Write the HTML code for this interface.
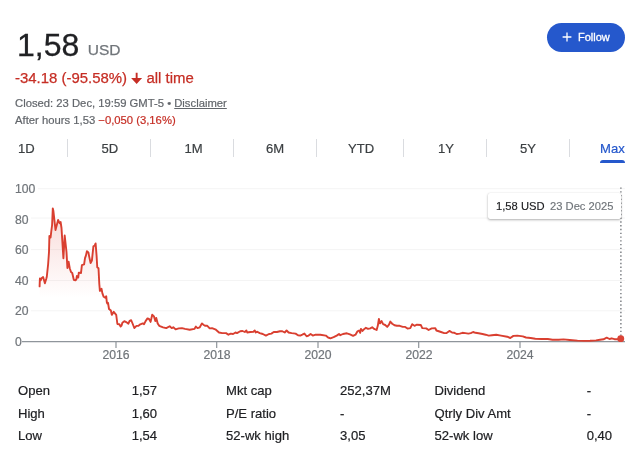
<!DOCTYPE html>
<html><head><meta charset="utf-8"><title>Stock</title>
<style>
html,body{margin:0;padding:0;background:#fff;}
body{width:640px;height:457px;position:relative;overflow:hidden;font-family:"Liberation Sans",Arial,sans-serif;color:#202124;}
.t{position:absolute;white-space:nowrap;line-height:1;}
.price{font-size:32px;color:#202124;-webkit-text-stroke:0.3px;}
.usd{font-size:15.5px;color:#70757a;-webkit-text-stroke:0.25px;}
.chg{font-size:14.93px;color:#c62e25;-webkit-text-stroke:0.25px;}
.meta{font-size:11.27px;color:#62666b;-webkit-text-stroke:0.2px;}
.meta u{text-decoration:underline;}
.red{color:#c62e25;-webkit-text-stroke:0.2px;}
.tab{font-size:13.07px;color:#3c4043;-webkit-text-stroke:0.2px;}
.sep{position:absolute;top:139px;width:1px;height:18px;background:#dadce0;}
.ax{font-size:12.2px;color:#70757a;-webkit-text-stroke:0.2px;}
.row{font-size:13.07px;color:#202124;-webkit-text-stroke:0.2px;}
.btn{position:absolute;left:547.3px;top:22.5px;width:77.6px;height:29.6px;border-radius:15px;background:#2558cc;}
.btn span{position:absolute;left:30.7px;top:9px;font-size:11px;line-height:1;color:#fff;-webkit-text-stroke:0.3px;}
.tip{position:absolute;left:487.5px;top:193px;width:133.5px;height:26px;border-radius:2px;background:#fff;box-shadow:0 1px 2.5px rgba(0,0,0,.3),0 0 1px rgba(0,0,0,.12);}
.tip .a{position:absolute;left:8.5px;top:7.7px;font-size:11.2px;line-height:1;color:#202124;-webkit-text-stroke:0.15px;}
.tip .b{position:absolute;left:62.5px;top:7.7px;font-size:11.2px;-webkit-text-stroke:0.15px;line-height:1;color:#70757a;}
</style></head><body>
<div class="t price" style="left:17px;top:29px;">1,58</div>
<div class="t usd" style="left:87.8px;top:42.1px;">USD</div>
<div class="t chg" style="left:15px;top:71.3px;">-34.18 (-95.58%)<span style="display:inline-block;width:19.5px"></span>all time</div>
<svg width="16" height="16" viewBox="128 70 16 16" style="position:absolute;left:128px;top:70px"><path d="M135.7 72.8H137.6V78.1H142.1L136.65 83.9L131.1 78.1H135.7Z" fill="#c62e25"/></svg>
<div class="t meta" style="left:15px;top:98.1px;">Closed: 23 Dec, 19:59 GMT-5 • <u>Disclaimer</u></div>
<div class="t meta" style="left:15px;top:115px;">After hours 1,53 <span class="red">−0,050 (3,16%)</span></div>

<div class="btn"><svg width="10" height="10" viewBox="0 0 10 10" style="position:absolute;left:14.5px;top:9.9px"><path d="M5 0.6V9.4M0.6 5H9.4" stroke="#fff" stroke-width="1.3" fill="none"/></svg><span>Follow</span></div>

<div class="t tab" style="left:18px;top:141.5px;">1D</div>
<div class="t tab" style="left:101.5px;top:141.5px;">5D</div>
<div class="t tab" style="left:184.5px;top:141.5px;">1M</div>
<div class="t tab" style="left:266px;top:141.5px;">6M</div>
<div class="t tab" style="left:348px;top:141.5px;">YTD</div>
<div class="t tab" style="left:438px;top:141.5px;">1Y</div>
<div class="t tab" style="left:520px;top:141.5px;">5Y</div>
<div class="t tab" style="left:600px;top:141.5px;color:#2558cc;">Max</div>
<div class="sep" style="left:67px"></div>
<div class="sep" style="left:150px"></div>
<div class="sep" style="left:233px"></div>
<div class="sep" style="left:316px"></div>
<div class="sep" style="left:403px"></div>
<div class="sep" style="left:486px"></div>
<div class="sep" style="left:569px"></div>
<div style="position:absolute;left:600px;top:159.5px;width:25px;height:3px;background:#2558cc;border-radius:3px 3px 0 0;"></div>

<svg width="640" height="457" viewBox="0 0 640 457" style="position:absolute;left:0;top:0">
<defs><linearGradient id="g" x1="0" y1="205" x2="0" y2="298" gradientUnits="userSpaceOnUse">
<stop offset="0" stop-color="#d93025" stop-opacity="0.19"/><stop offset="1" stop-color="#d93025" stop-opacity="0"/></linearGradient></defs>
<g stroke="#f4f4f4" stroke-width="1">
<line x1="38" x2="625" y1="188.7" y2="188.7"/>
<line x1="31" x2="625" y1="218" y2="218"/>
<line x1="31" x2="625" y1="249.6" y2="249.6"/>
<line x1="31" x2="625" y1="280.5" y2="280.5"/>
<line x1="31" x2="625" y1="310.8" y2="310.8"/>
</g>
<path d="M39.6,341.6 L39.6,286.4 L39.9,278.5 L40.7,280.3 L41.5,278.2 L43.1,277 L44.9,283.3 L46.2,279 L46.8,276.75 L48.1,264.5 L49,252 L49.4,236 L50.6,237.5 L51.2,232 L52.1,225 L52.8,208.4 L53.4,211 L55.5,230 L58.1,220 L59.6,223.2 L60.6,222 L61.5,228 L63.4,258.25 L64.7,235.5 L66.5,252 L67.4,268 L68.6,261.6 L69.75,268.25 L71,272 L72.25,273 L73.8,279.8 L75.4,280.4 L76.3,279.5 L76.9,276 L78.2,277.6 L78.8,272.6 L81,273 L81.9,265.1 L84.1,264.3 L85,258.1 L85.9,255.6 L86.9,251.25 L88.4,252.5 L89,255.6 L90.6,263.1 L91.9,260.6 L93.4,246.25 L94.7,245.6 L95.6,243.4 L96.6,256 L97.25,267.3 L98.5,268.25 L99.3,284 L99.9,290.9 L101.5,288.7 L102.4,293.4 L103.7,296.8 L105.25,297.75 L106.2,296.2 L106.8,302.1 L107.25,303.4 L108,302.75 L109,309 L110.9,310.6 L111.8,314.9 L113.7,311.8 L116.2,314.9 L117.4,324 L119.3,324.3 L120.6,326.5 L121.5,325.6 L122.4,322.75 L124.3,321.2 L126.2,322.1 L128.4,323.7 L129.6,320.9 L131.2,320.25 L132.75,324 L134.3,328 L136.5,325.9 L138.4,325.9 L139.7,324.7 L142.8,323.4 L144,324.2 L145.6,321.1 L147.5,318.4 L149,319 L150.6,321.9 L152.2,314.8 L154,316.4 L155.3,321 L156.25,318 L157.7,323.4 L159.2,325.8 L163.1,327.3 L166.25,328.1 L169.7,326.25 L171.7,328.1 L173.3,327.3 L175.6,329.4 L178.75,328.4 L181.9,328.1 L185,328.9 L189.7,329.7 L194.4,328.9 L195.9,326.6 L197.5,328.1 L199.8,327.3 L201.9,323.4 L203.75,325 L205.3,325.8 L207.3,325.8 L209.7,328.4 L212,328.1 L215.9,329.7 L219,332.5 L222.2,333.1 L226.1,333.1 L228.4,334.7 L230.8,333.6 L233.1,334 L235.5,332.5 L237,333.1 L240.2,331.25 L242.5,331 L244.8,332 L246.4,330.5 L247.2,332.5 L250.3,332 L253.4,331.7 L254.7,330.5 L255.8,332.5 L257.3,331.7 L259.7,333.1 L262.8,334 L265.9,335.6 L269,334 L271.4,333.6 L273.75,332 L276.9,332 L280,331.25 L282.3,331.25 L284.7,332.5 L286.6,330.5 L288.6,332.5 L291.7,333.1 L295.6,333.6 L298,335.2 L300.3,335.6 L302.3,334.7 L304.4,333.6 L306.6,336.25 L308.6,335.6 L310.6,334 L312.8,335.6 L315.6,334.7 L320.3,334.7 L325.8,335.6 L328.1,337.5 L330.5,338.3 L333.6,337.2 L336.7,335.6 L339,334 L340.3,335.2 L343,334 L346.9,333.3 L350,334.4 L353.1,335.9 L355.5,334.7 L357.5,331.25 L359,330.5 L360.2,332.8 L360.9,328.9 L362.5,330.9 L364.4,328.9 L365.9,327.8 L368,328.9 L370.3,328.4 L372.2,327.3 L374.2,328.9 L376.6,330 L377.8,325.8 L378.9,319 L380,323.4 L381.6,321.1 L383.1,324.2 L385.2,325 L387.2,326.9 L389,324.7 L390.3,321.6 L392.2,323.75 L394.5,325.3 L396.9,325.8 L399.7,325.8 L402.8,326.9 L405.2,326.9 L407.5,328.6 L410.3,328.1 L412.2,324.2 L414.5,325.8 L416.9,324.7 L420.8,325 L422.3,328.1 L426.25,328.4 L428.6,330 L431.7,328.4 L435.3,328.1 L436.4,330.5 L438.75,331.25 L441,332 L444.2,333.1 L446.6,333.1 L449.4,330.9 L452,332.5 L454.4,332.8 L456.7,334 L459.8,333.6 L462.5,332.8 L465.3,333.1 L468.4,333.6 L470.8,333.1 L473.1,332 L475.5,332.8 L478.6,333.3 L482.5,334 L485.6,334.7 L488.75,335.6 L491.9,335.2 L496.25,334.7 L501,335.6 L507.2,336.7 L510.3,338 L513.4,335.9 L517.3,335.6 L522.8,336.4 L526,337.5 L530.6,338 L535.3,338.75 L541.6,339 L547.8,339 L552.5,339.7 L558.75,339.7 L563.4,339.4 L569.7,340 L577.5,340.6 L583.75,340.9 L590,340.8 L596,340.4 L600,339.8 L603.5,339.3 L606.7,337.7 L609.5,339 L611.7,338.3 L614.5,339.2 L617.4,339.2 L620.7,338.7 L620.7,341.6 Z" fill="url(#g)"/>
<line x1="22" x2="625" y1="341.7" y2="341.7" stroke="#8f959b" stroke-width="1.3"/>
<g stroke="#8a9096" stroke-width="1.15">
<line x1="116" x2="116" y1="342" y2="348"/>
<line x1="216.7" x2="216.7" y1="342" y2="348"/>
<line x1="318" x2="318" y1="342" y2="348"/>
<line x1="418.7" x2="418.7" y1="342" y2="348"/>
<line x1="520" x2="520" y1="342" y2="348"/>
</g>
<polyline points="39.6,286.4 39.9,278.5 40.7,280.3 41.5,278.2 43.1,277 44.9,283.3 46.2,279 46.8,276.75 48.1,264.5 49,252 49.4,236 50.6,237.5 51.2,232 52.1,225 52.8,208.4 53.4,211 55.5,230 58.1,220 59.6,223.2 60.6,222 61.5,228 63.4,258.25 64.7,235.5 66.5,252 67.4,268 68.6,261.6 69.75,268.25 71,272 72.25,273 73.8,279.8 75.4,280.4 76.3,279.5 76.9,276 78.2,277.6 78.8,272.6 81,273 81.9,265.1 84.1,264.3 85,258.1 85.9,255.6 86.9,251.25 88.4,252.5 89,255.6 90.6,263.1 91.9,260.6 93.4,246.25 94.7,245.6 95.6,243.4 96.6,256 97.25,267.3 98.5,268.25 99.3,284 99.9,290.9 101.5,288.7 102.4,293.4 103.7,296.8 105.25,297.75 106.2,296.2 106.8,302.1 107.25,303.4 108,302.75 109,309 110.9,310.6 111.8,314.9 113.7,311.8 116.2,314.9 117.4,324 119.3,324.3 120.6,326.5 121.5,325.6 122.4,322.75 124.3,321.2 126.2,322.1 128.4,323.7 129.6,320.9 131.2,320.25 132.75,324 134.3,328 136.5,325.9 138.4,325.9 139.7,324.7 142.8,323.4 144,324.2 145.6,321.1 147.5,318.4 149,319 150.6,321.9 152.2,314.8 154,316.4 155.3,321 156.25,318 157.7,323.4 159.2,325.8 163.1,327.3 166.25,328.1 169.7,326.25 171.7,328.1 173.3,327.3 175.6,329.4 178.75,328.4 181.9,328.1 185,328.9 189.7,329.7 194.4,328.9 195.9,326.6 197.5,328.1 199.8,327.3 201.9,323.4 203.75,325 205.3,325.8 207.3,325.8 209.7,328.4 212,328.1 215.9,329.7 219,332.5 222.2,333.1 226.1,333.1 228.4,334.7 230.8,333.6 233.1,334 235.5,332.5 237,333.1 240.2,331.25 242.5,331 244.8,332 246.4,330.5 247.2,332.5 250.3,332 253.4,331.7 254.7,330.5 255.8,332.5 257.3,331.7 259.7,333.1 262.8,334 265.9,335.6 269,334 271.4,333.6 273.75,332 276.9,332 280,331.25 282.3,331.25 284.7,332.5 286.6,330.5 288.6,332.5 291.7,333.1 295.6,333.6 298,335.2 300.3,335.6 302.3,334.7 304.4,333.6 306.6,336.25 308.6,335.6 310.6,334 312.8,335.6 315.6,334.7 320.3,334.7 325.8,335.6 328.1,337.5 330.5,338.3 333.6,337.2 336.7,335.6 339,334 340.3,335.2 343,334 346.9,333.3 350,334.4 353.1,335.9 355.5,334.7 357.5,331.25 359,330.5 360.2,332.8 360.9,328.9 362.5,330.9 364.4,328.9 365.9,327.8 368,328.9 370.3,328.4 372.2,327.3 374.2,328.9 376.6,330 377.8,325.8 378.9,319 380,323.4 381.6,321.1 383.1,324.2 385.2,325 387.2,326.9 389,324.7 390.3,321.6 392.2,323.75 394.5,325.3 396.9,325.8 399.7,325.8 402.8,326.9 405.2,326.9 407.5,328.6 410.3,328.1 412.2,324.2 414.5,325.8 416.9,324.7 420.8,325 422.3,328.1 426.25,328.4 428.6,330 431.7,328.4 435.3,328.1 436.4,330.5 438.75,331.25 441,332 444.2,333.1 446.6,333.1 449.4,330.9 452,332.5 454.4,332.8 456.7,334 459.8,333.6 462.5,332.8 465.3,333.1 468.4,333.6 470.8,333.1 473.1,332 475.5,332.8 478.6,333.3 482.5,334 485.6,334.7 488.75,335.6 491.9,335.2 496.25,334.7 501,335.6 507.2,336.7 510.3,338 513.4,335.9 517.3,335.6 522.8,336.4 526,337.5 530.6,338 535.3,338.75 541.6,339 547.8,339 552.5,339.7 558.75,339.7 563.4,339.4 569.7,340 577.5,340.6 583.75,340.9 590,340.8 596,340.4 600,339.8 603.5,339.3 606.7,337.7 609.5,339 611.7,338.3 614.5,339.2 617.4,339.2 620.7,338.7" fill="none" stroke="#d93f30" stroke-width="1.9" stroke-linejoin="round" stroke-linecap="round"/>
<line x1="620.9" x2="620.9" y1="187.4" y2="336" stroke="#6a6e73" stroke-width="1.3" stroke-dasharray="1.4 2.37"/>
<circle cx="620.75" cy="338.65" r="3.45" fill="#da4336"/>
</svg>

<div class="t ax" style="left:15px;top:183px;">100</div>
<div class="t ax" style="left:15px;top:213.5px;">80</div>
<div class="t ax" style="left:15px;top:244px;">60</div>
<div class="t ax" style="left:15px;top:274.5px;">40</div>
<div class="t ax" style="left:15px;top:305px;">20</div>
<div class="t ax" style="left:15px;top:336px;">0</div>
<div class="t ax" style="left:102.5px;top:349px;">2016</div>
<div class="t ax" style="left:203.5px;top:349px;">2018</div>
<div class="t ax" style="left:304.5px;top:349px;">2020</div>
<div class="t ax" style="left:405.5px;top:349px;">2022</div>
<div class="t ax" style="left:506.5px;top:349px;">2024</div>

<div class="tip"><span class="a">1,58 USD</span><span class="b">23 Dec 2025</span></div>

<div class="t row" style="left:18px;top:384.3px;">Open</div><div class="t row" style="left:131.7px;top:384.3px;">1,57</div>
<div class="t row" style="left:18px;top:406.6px;">High</div><div class="t row" style="left:131.7px;top:406.6px;">1,60</div>
<div class="t row" style="left:18px;top:428.9px;">Low</div><div class="t row" style="left:131.7px;top:428.9px;">1,54</div>
<div class="t row" style="left:226px;top:384.3px;">Mkt cap</div><div class="t row" style="left:340px;top:384.3px;">252,37M</div>
<div class="t row" style="left:226px;top:406.6px;">P/E ratio</div><div class="t row" style="left:340px;top:406.6px;">-</div>
<div class="t row" style="left:226px;top:428.9px;">52-wk high</div><div class="t row" style="left:340px;top:428.9px;">3,05</div>
<div class="t row" style="left:434.5px;top:384.3px;">Dividend</div><div class="t row" style="left:586.7px;top:384.3px;">-</div>
<div class="t row" style="left:434.5px;top:406.6px;">Qtrly Div Amt</div><div class="t row" style="left:586.7px;top:406.6px;">-</div>
<div class="t row" style="left:434.5px;top:428.9px;">52-wk low</div><div class="t row" style="left:586.7px;top:428.9px;">0,40</div>
</body></html>
